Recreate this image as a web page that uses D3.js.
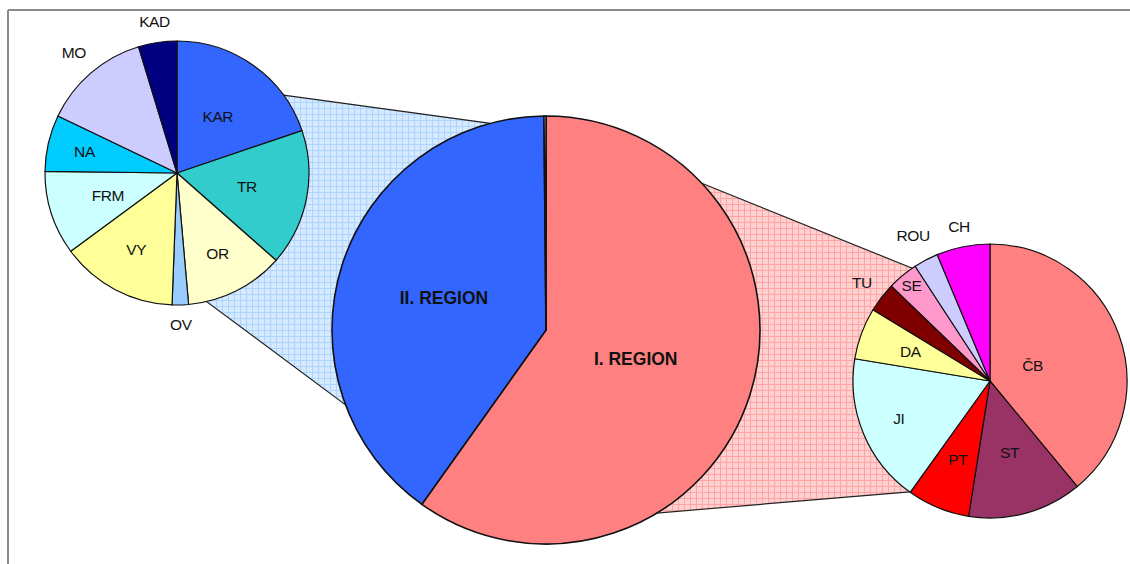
<!DOCTYPE html>
<html>
<head>
	<meta charset="utf-8">
	<script src="https://cdnjs.cloudflare.com/ajax/libs/d3/7.8.5/d3.min.js"></script>
	<style>
		body { margin: 0; background: #fff; }
		text { font-family: "Liberation Sans", Arial, sans-serif; }
	</style>
</head>
<body>
	<svg width="1130" height="564" id="chart"></svg>
	<script>
	//main split
	var mainNames = ["I. REGION", "II. REGION", ""];
	var mainValues = [59.85, 40.0, 0.15];
	var mainColors = ["#FF8080", "#3366FF", "#FFFFFF"];

	//II. region breakdown (left pie)
	var leftNames = ["KAR", "TR", "OR", "OV", "VY", "FRM", "NA", "MO", "KAD"];
	var leftValues = [19.8, 16.7, 12.1, 2.0, 14.3, 10.3, 6.9, 13.2, 4.7];
	var leftColors = ["#3366FF", "#33CCCC", "#FFFFCC", "#99CCFF", "#FFFF99", "#CCFFFF", "#00CCFF", "#CCCCFF", "#000080"];

	//I. region breakdown (right pie)
	var rightNames = ["ČB", "ST", "PT", "JI", "DA", "TU", "SE", "ROU", "CH"];
	var rightValues = [39.0, 13.5, 7.4, 17.7, 6.1, 3.5, 3.6, 2.9, 6.3];
	var rightColors = ["#FF8080", "#993366", "#FF0000", "#CCFFFF", "#FFFF99", "#800000", "#FF99CC", "#CCCCFF", "#FF00FF"];

	//label distance as fraction of radius
	var labelDist = {
		"KAR": .53, "TR": .54, "OR": .68, "OV": 1.15, "VY": .66, "FRM": .55, "NA": .72, "MO": 1.2, "KAD": 1.16,
		"ČB": .33, "ST": .54, "PT": .62, "JI": .72, "DA": .62, "TU": 1.18, "SE": .9, "ROU": 1.2, "CH": 1.15,
		"I. REGION": .44, "II. REGION": .5
	};

	var svg = d3.select("svg");

	//pie placement
	var leftPie = {x: 177, y: 173, r: 132},
		mainPie = {x: 546, y: 330, r: 214},
		rightPie = {x: 990, y: 381, r: 137};

	//frame
	svg.append("line").attr("x1", 8).attr("x2", 1130).attr("y1", 10).attr("y2", 10)
		.attr("stroke", "#8a8a8a").attr("stroke-width", 2);
	svg.append("line").attr("x1", 8).attr("x2", 8).attr("y1", 10).attr("y2", 564)
		.attr("stroke", "#8a8a8a").attr("stroke-width", 2);

	//grid patterns for connectors
	var defs = svg.append("defs");
	function gridPattern(id, bg, line) {
		var p = defs.append("pattern").attr("id", id)
			.attr("patternUnits", "userSpaceOnUse").attr("width", 6).attr("height", 6);
		p.append("rect").attr("width", 6).attr("height", 6).attr("fill", bg);
		p.append("path").attr("d", "M0,0.5H6M0.5,0V6").attr("stroke", line).attr("stroke-width", 1);
	}
	gridPattern("blueGrid", "#D6EAFF", "#AED3FF");
	gridPattern("pinkGrid", "#FFD0D0", "#FFA4A4");

	//point on circle, angle in degrees clockwise from 12 o'clock
	function onCircle(c, deg) {
		var a = deg * Math.PI / 180;
		return [c.x + c.r * Math.sin(a), c.y - c.r * Math.cos(a)];
	}

	//connectors (drawn first, pies cover the inner parts)
	var blue = [onCircle(leftPie, 53.8), onCircle(mainPie, 344.9), [mainPie.x, mainPie.y],
		onCircle(mainPie, 249.5), onCircle(leftPie, 167), [leftPie.x, leftPie.y]];
	var pink = [onCircle(mainPie, 46.7), onCircle(rightPie, 325.4), [rightPie.x, rightPie.y],
		onCircle(rightPie, 216), onCircle(mainPie, 148.8), [mainPie.x, mainPie.y]];

	svg.append("path").attr("d", d3.line()(blue) + "Z")
		.attr("fill", "url(#blueGrid)").attr("stroke", "#222").attr("stroke-width", 1.2);
	svg.append("path").attr("d", d3.line()(pink) + "Z")
		.attr("fill", "url(#pinkGrid)").attr("stroke", "#222").attr("stroke-width", 1.2);

	//draw a pie with labels
	function drawPie(c, names, values, colors, opts) {
		var data = names.map(function(n, i) { return {name: n, value: values[i], color: colors[i]}; });
		var arcs = d3.pie().sort(null).value(function(d) { return d.value; })(data);
		var arc = d3.arc().innerRadius(0).outerRadius(c.r);
		var g = svg.append("g").attr("transform", "translate(" + c.x + "," + c.y + ")");

		g.selectAll("path")
			.data(arcs)
			.enter().append("path")
			.attr("d", arc)
			.attr("fill", function(d) { return d.data.color; })
			.attr("stroke", "#111")
			.attr("stroke-width", opts.stroke)
			.attr("stroke-linejoin", "round");

		g.selectAll("text")
			.data(arcs.filter(function(d) { return d.data.name; }))
			.enter().append("text")
			.attr("transform", function(d) {
				var a = (d.startAngle + d.endAngle) / 2,
					k = labelDist[d.data.name] * c.r;
				return "translate(" + (k * Math.sin(a)) + "," + (-k * Math.cos(a)) + ")";
			})
			.attr("text-anchor", "middle")
			.attr("dy", "0.35em")
			.style("font-size", opts.size)
			.style("font-weight", opts.weight)
			.style("letter-spacing", opts.spacing)
			.attr("fill", "#111")
			.text(function(d) { return d.data.name; });
	}

	drawPie(leftPie, leftNames, leftValues, leftColors, {stroke: 1.2, size: "15.5px", weight: "normal", spacing: "-0.4px"});
	drawPie(rightPie, rightNames, rightValues, rightColors, {stroke: 1.2, size: "15.5px", weight: "normal", spacing: "-0.4px"});
	drawPie(mainPie, mainNames, mainValues, mainColors, {stroke: 1.6, size: "17.5px", weight: "bold", spacing: "0px"});
	</script>
</body>
</html>
